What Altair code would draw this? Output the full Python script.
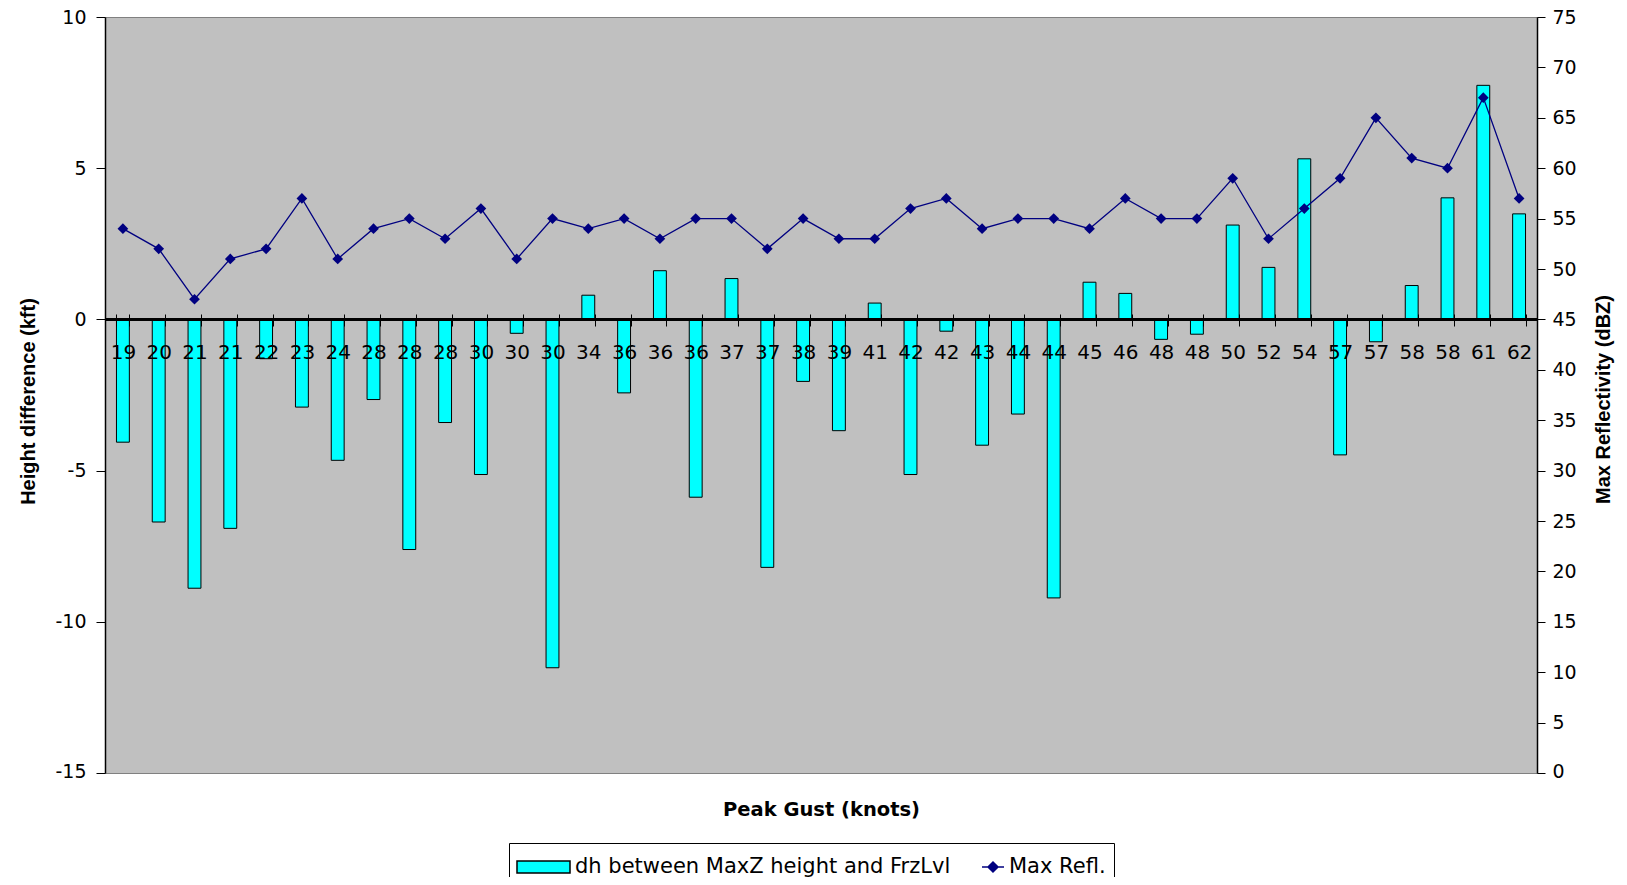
import altair as alt
import pandas as pd

# ---- data ----
gust_labels = ["19", "20", "21", "21", "22", "23", "24", "28", "28", "28",
               "30", "30", "30", "34", "36", "36", "36", "37", "37", "38",
               "39", "41", "42", "42", "43", "44", "44", "45", "46", "48",
               "48", "50", "52", "54", "57", "57", "58", "58", "61", "62"]
height_diff = [-4.06, -6.70, -8.89, -6.91, -1.30, -2.90, -4.66, -2.65, -7.61, -3.41,
               -5.13, -0.46, -11.52, 0.80, -2.43, 1.61, -5.88, 1.35, -8.20, -2.05,
               -3.68, 0.54, -5.13, -0.39, -4.16, -3.13, -9.21, 1.23, 0.86, -0.66,
               -0.49, 3.12, 1.72, 5.31, -4.48, -0.74, 1.12, 4.02, 7.74, 3.49]
max_refl = [54, 52, 47, 51, 52, 57, 51, 54, 55, 53,
            56, 51, 55, 54, 55, 53, 55, 55, 52, 55,
            53, 53, 56, 57, 54, 55, 55, 54, 57, 55,
            55, 59, 53, 56, 59, 65, 61, 60, 67, 57]
left_ticks = [-15, -10, -5, 0, 5, 10]
right_ticks = list(range(0, 80, 5))
series_names = ["dh between MaxZ height and FrzLvl", "Max Refl."]
series_fill = ["#00FFFF", "#000080"]
series_stroke = ["#000000", "#000080"]

df = pd.DataFrame({
    "idx": list(range(len(gust_labels))),
    "gust": gust_labels,
    "dh": height_diff,
    "refl": max_refl,
})
legend_df = pd.DataFrame({"series": series_names})

label_expr = "[" + ",".join("'%s'" % g for g in gust_labels) + "][datum.value]"

TICK_FONT = "DejaVu Sans"
PLOT_BG = "#C0C0C0"

# legend symbols: wide swatch, and a short line with a diamond
swatch_path = "M-1.067,-0.4H2.467V0.4H-1.067Z"
line_path = "M1.0,0H2.467M1.733,-0.333L2.067,0L1.733,0.333L1.4,0Z"

legend_def = alt.Legend(
    title=None,
    orient="none",
    legendX=404,
    legendY=826,
    direction="horizontal",
    columns=2,
    padding=8,
    strokeColor="black",
    fillColor="white",
    symbolSize=900,
    symbolOffset=0,
    symbolOpacity=1,
    symbolStrokeWidth=1.5,
    labelOffset=26,
    columnPadding=0,
    labelFont=TICK_FONT,
    labelFontSize=21,
    labelColor="black",
    labelLimit=1000,
)

x_enc = alt.X(
    "idx:O",
    scale=alt.Scale(paddingInner=0.64, paddingOuter=0.32),
    axis=alt.Axis(
        title="Peak Gust (knots)",
        labelExpr=label_expr,
        labelAngle=0,
        offset=-459,
        domain=False,
        ticks=True,
        tickBand="extent",
        tickSize=12,
        tickColor="black",
        tickWidth=1,
        labelPadding=16,
        labelFont=TICK_FONT,
        labelFontSize=20,
        labelColor="black",
        titleFont=TICK_FONT,
        titleFontWeight="bold",
        titleFontSize=19.5,
        titleColor="black",
        titleY=495,
        titleBaseline="middle",
        zindex=1,
    ),
)

bars = alt.Chart(df).mark_bar(fill=series_fill[0], stroke="black", strokeWidth=1).encode(
    x=x_enc,
    y=alt.Y(
        "dh:Q",
        scale=alt.Scale(domain=[-15, 10], nice=False, zero=False),
        axis=alt.Axis(
            title="Height difference (kft)",
            values=left_ticks,
            labelExpr="datum.value + ''",
            grid=False,
            domainColor="black",
            domainWidth=1.5,
            tickColor="black",
            tickSize=9,
            labelPadding=10,
            labelFlush=True,
            labelFlushOffset=8.5,
            labelFont=TICK_FONT,
            labelFontSize=19,
            labelColor="black",
            titleFont="Liberation Sans",
            titleFontWeight="bold",
            titleFontSize=20,
            titleColor="black",
            titleX=-77,
            titleY=384,
            titleAngle=270,
            titleAlign="center",
            titleBaseline="middle",
        ),
    ),
)

zero_rule = alt.Chart(df).mark_rule(color="black", strokeWidth=1.5).encode(
    y=alt.datum(0)
)

line = alt.Chart(df).mark_line(
    color=series_fill[1],
    strokeWidth=1.3,
    point=alt.OverlayMarkDef(shape="diamond", size=115, filled=True, opacity=1,
                             color=series_fill[1]),
).encode(
    x=alt.X("idx:O"),
    y=alt.Y(
        "refl:Q",
        scale=alt.Scale(domain=[0, 75], nice=False),
        axis=alt.Axis(
            orient="right",
            title="Max Reflectivity (dBZ)",
            values=right_ticks,
            grid=False,
            domainColor="black",
            domainWidth=1.5,
            tickColor="black",
            tickSize=8,
            labelPadding=7,
            labelFlush=True,
            labelFlushOffset=8.5,
            labelFont=TICK_FONT,
            labelFontSize=19,
            labelColor="black",
            titleFont="Liberation Sans",
            titleFontWeight="bold",
            titleFontSize=20,
            titleColor="black",
            titleX=66,
            titleY=382,
            titleAngle=270,
            titleAlign="center",
            titleBaseline="middle",
        ),
    ),
)

# legend-only layer (invisible points), one legend merging fill/stroke/shape
legend_layer = alt.Chart(legend_df).mark_point(filled=True, opacity=0, size=900).encode(
    fill=alt.Fill("series:N", sort=series_names,
                  scale=alt.Scale(domain=series_names, range=series_fill),
                  legend=legend_def),
    stroke=alt.Stroke("series:N", sort=series_names,
                      scale=alt.Scale(domain=series_names, range=series_stroke),
                      legend=legend_def),
    shape=alt.Shape("series:N", sort=series_names,
                    scale=alt.Scale(domain=series_names, range=[swatch_path, line_path]),
                    legend=legend_def),
)

chart = alt.layer(alt.layer(bars, zero_rule), line, legend_layer).resolve_scale(
    y="independent"
).properties(
    width=1432,
    height=756,
    padding={"left": 97, "top": 9, "right": 82, "bottom": 104},
    autosize="none",
    background="white",
    view=alt.ViewBackground(fill=PLOT_BG, stroke="#808080", strokeWidth=1),
).configure_view(
    fill=PLOT_BG,
    stroke="#808080",
    strokeWidth=1,
)

chart.save("out.html", embed_options={"renderer": "svg", "actions": False})
